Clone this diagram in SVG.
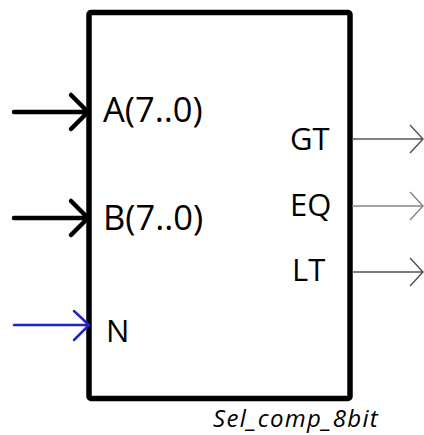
<svg xmlns="http://www.w3.org/2000/svg" width="424" height="435" viewBox="0 0 424 435">
<style>
.lbl{font-family:"Open Sans","Noto Sans",sans-serif;fill:#000}
.in{stroke:#000;stroke-width:4.5;fill:none;stroke-linecap:round;stroke-linejoin:round}
.inb{stroke:#2222cc;stroke-width:2.5;fill:none;stroke-linecap:round;stroke-linejoin:round}
.out{stroke-width:1.5;fill:none}
</style>
<rect width="424" height="435" fill="#fff"/>
<g id="block">
<rect x="89" y="12.5" width="261" height="386" rx="2" fill="#fff" stroke="#000" stroke-width="5.5"/>
<text class="lbl" x="103" y="122" font-size="34.5">A(7..0)</text>
<text class="lbl" x="103" y="230" font-size="34.5">B(7..0)</text>
<text class="lbl" x="106" y="342" font-size="31">N</text>
<text class="lbl" x="290" y="150" font-size="31">GT</text>
<text class="lbl" x="290" y="216" font-size="31">EQ</text>
<text class="lbl" x="292" y="281" font-size="31">LT</text>
<text class="lbl" x="213" y="427" font-size="24" font-style="italic" letter-spacing="1.3">Sel_comp_8bit</text>
</g>
<g id="connectors">
<path class="in" d="M14 112H88M71 95L88 112L71 129"/>
<path class="in" d="M14 218H88M71 201L88 218L71 235"/>
<path class="inb" d="M14 325H88M74 311L89 325L74 340"/>
<path class="out" stroke="#555" d="M352 139H422M410 125L423 139L410 153"/>
<path class="out" stroke="#888" d="M352 206H422M410 192L423 206L410 220"/>
<path class="out" stroke="#555" d="M352 272H422M410 258L423 272L410 286"/>
</g>
</svg>
